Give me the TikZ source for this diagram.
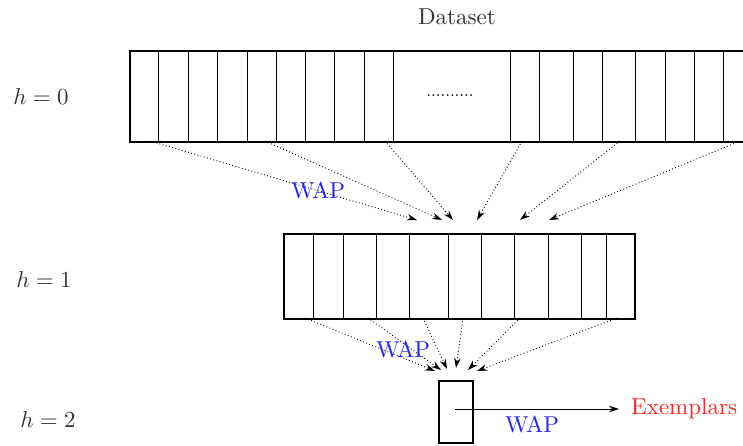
\documentclass[tikz,border=0pt]{standalone}
\usepackage{graphicx}
\usetikzlibrary{arrows.meta}
\definecolor{txtgray}{RGB}{51,51,51}
\definecolor{wapblue}{RGB}{35,35,255}
\definecolor{exred}{RGB}{255,35,35}
\tikzset{
  lbl/.style={text=txtgray, inner sep=0pt},
  wap/.style={text=wapblue, inner sep=0pt},
  exlbl/.style={text=exred, inner sep=0pt},
  bigbox/.style={draw, line width=1.8pt, inner sep=0pt, anchor=north west},
  cell/.style={line width=0.8pt},
  dotarrow/.style={line width=0.9pt, dash pattern=on 0.9pt off 2.4pt, -{Stealth[length=10pt,width=6.5pt]}},
  solidarrow/.style={line width=1pt, -{Stealth[length=10pt,width=6.5pt]}}
}
\newcommand{\bigtxt}[1]{\scalebox{2.3}{#1}}
\begin{document}
\begin{tikzpicture}[x=1pt,y=-1pt]
\useasboundingbox (0,0) rectangle (743,445);
\clip (0,0) rectangle (743,445);
% labels
\node[lbl] (ds) at (457,17) {\bigtxt{Dataset}};
\node[lbl] (h0) at (41,97) {\bigtxt{$h=0$}};
\node[lbl] (h1) at (44,280) {\bigtxt{$h=1$}};
\node[lbl] (h2) at (48,420) {\bigtxt{$h=2$}};
% level 0
\node[bigbox, minimum width=630pt, minimum height=91pt] (L0) at (129,50) {};
\foreach \x in {158,188,217,247,276,305,334,364,393,510,539,573,602,635,665,694,723}
  \draw[cell] (\x,50) -- (\x,141);
\node[inner sep=0pt] (dots) at (450,96) {\scalebox{1.7}{..........}};
% level 1
\node[bigbox, minimum width=351pt, minimum height=85pt] (L1) at (283,233) {};
\foreach \x in {313,343,376,409,448,481,514,548,581,606}
  \draw[cell] (\x,233) -- (\x,318);
% level 2
\node[bigbox, minimum width=34pt, minimum height=62pt] (L2) at (438,380) {};
% arrows level 0 -> 1
\coordinate (s01) at (150,141); \coordinate (t01) at (417,220);
\coordinate (s02) at (265,141); \coordinate (t02) at (442,220);
\coordinate (s03) at (385,141); \coordinate (t03) at (453,220);
\coordinate (s04) at (522,141); \coordinate (t04) at (477,220);
\coordinate (s05) at (620,141); \coordinate (t05) at (520,220);
\coordinate (s06) at (740,141); \coordinate (t06) at (549,220);
\foreach \i in {1,...,6} \draw[dotarrow] (s0\i) -- (t0\i);
% arrows level 1 -> 2
\coordinate (s11) at (305,318); \coordinate (t11) at (435,371);
\coordinate (s12) at (368,318); \coordinate (t12) at (441,370);
\coordinate (s13) at (423,318); \coordinate (t13) at (447,369);
\coordinate (s14) at (463,318); \coordinate (t14) at (456,368);
\coordinate (s15) at (520,318); \coordinate (t15) at (468,370);
\coordinate (s16) at (617,318); \coordinate (t16) at (477,371);
\foreach \i in {1,...,6} \draw[dotarrow] (s1\i) -- (t1\i);
% WAP labels
\node[wap] (w0) at (318,191) {\bigtxt{WAP}};
\node[wap] (w1) at (403,350) {\bigtxt{WAP}};
\node[wap] (w2) at (532,425) {\bigtxt{WAP}};
% exemplars
\node[exlbl, anchor=west] (ex) at (631,409) {\bigtxt{Exemplars}};
\coordinate (st) at (455,409);
\draw[solidarrow, shorten >=12pt] (st) -- (ex.west);
\end{tikzpicture}
\end{document}
